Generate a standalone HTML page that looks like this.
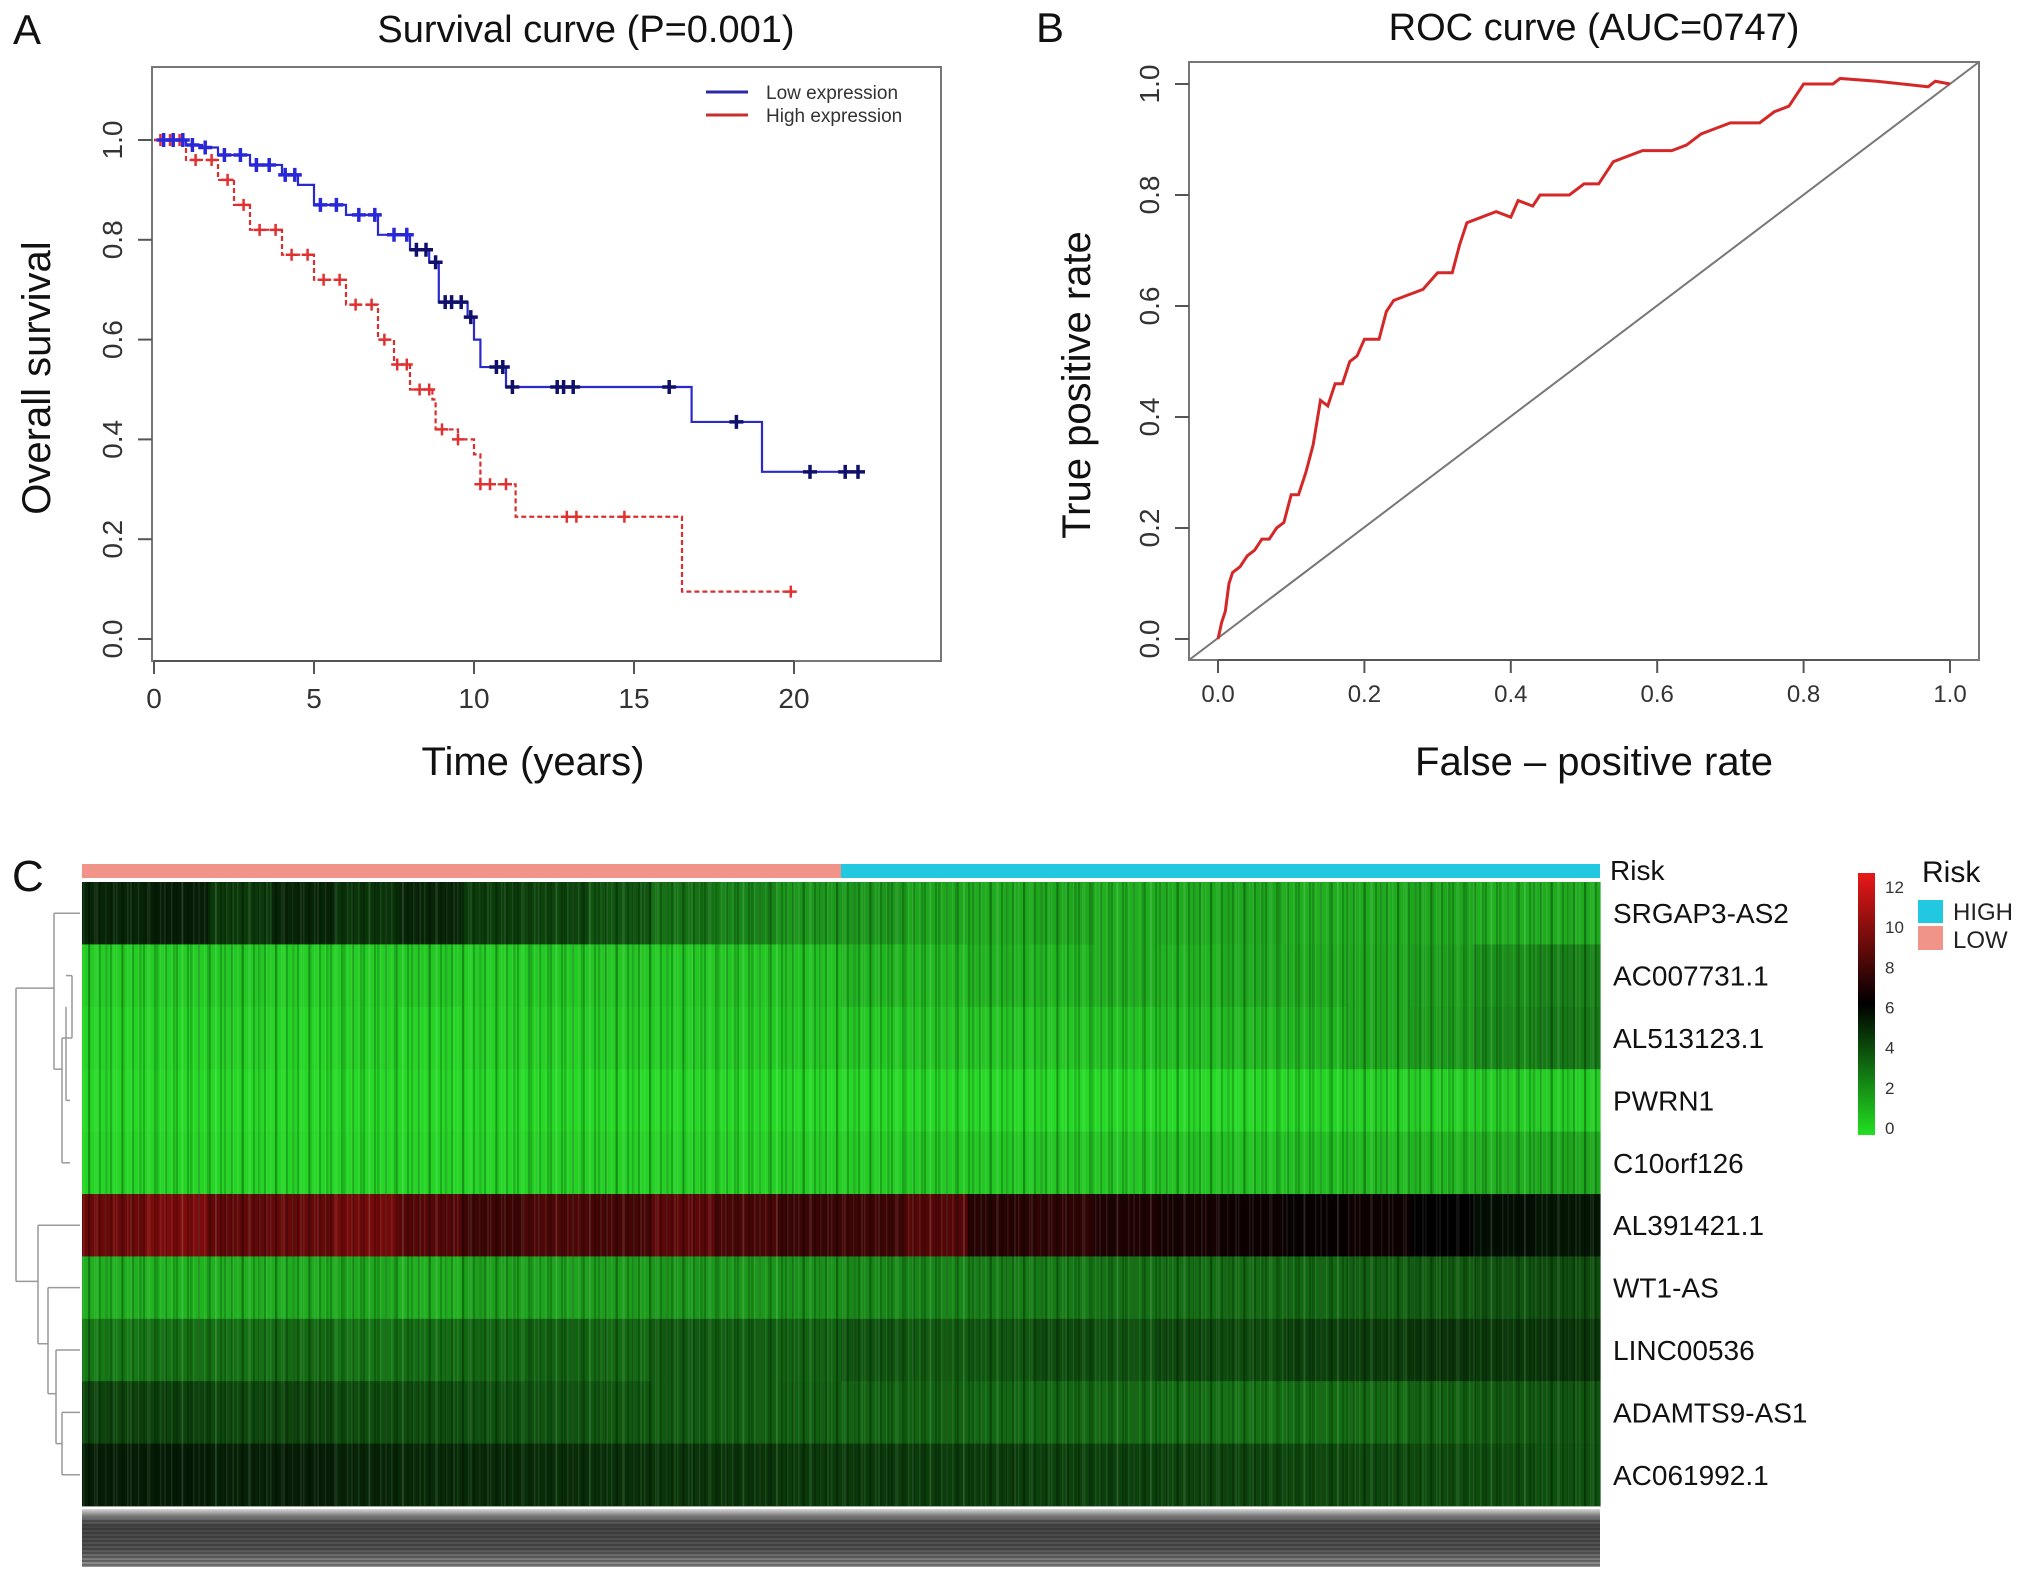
<!DOCTYPE html>
<html><head><meta charset="utf-8"><style>
html,body{margin:0;padding:0;background:#fff;}
svg{display:block;font-family:"Liberation Sans",Arial,sans-serif;}
</style></head><body>
<svg id="fig" width="2031" height="1586" viewBox="0 0 2031 1586" xmlns="http://www.w3.org/2000/svg">
<rect width="2031" height="1586" fill="#fff"/>
<defs>
<linearGradient id="keyg" x1="0" y1="1" x2="0" y2="0">
<stop offset="0" stop-color="#22e022"/><stop offset="0.5" stop-color="#000"/><stop offset="1" stop-color="#e81818"/>
</linearGradient>
<linearGradient id="grayg" x1="0" y1="0" x2="0" y2="1">
<stop offset="0" stop-color="#d8d8d8"/><stop offset="0.12" stop-color="#777"/><stop offset="0.3" stop-color="#444"/><stop offset="0.7" stop-color="#555"/><stop offset="1" stop-color="#999"/>
</linearGradient>
<pattern id="stripes" width="11" height="10" patternUnits="userSpaceOnUse">
<rect x="0" y="0" width="2" height="10" fill="#000" opacity="0.2"/>
<rect x="6" y="0" width="1.5" height="10" fill="#fff" opacity="0.08"/>
</pattern>
<pattern id="stripes2" width="17" height="10" patternUnits="userSpaceOnUse">
<rect x="3" y="0" width="2.5" height="10" fill="#000" opacity="0.15"/>
<rect x="11" y="0" width="2" height="10" fill="#fff" opacity="0.07"/>
</pattern>
<pattern id="gstripes" width="4" height="4" patternUnits="userSpaceOnUse">
<rect x="0" y="0" width="4" height="2" fill="#222" opacity="0.35"/>
</pattern>
</defs>
<!-- Panel A -->
<g id="panelA">
<text x="13" y="44" font-size="42" fill="#111">A</text>
<text x="586" y="42" font-size="38" text-anchor="middle" fill="#111">Survival curve (P=0.001)</text>
<rect x="152" y="67" width="789" height="594" fill="none" stroke="#777" stroke-width="2"/>
<g id="aTicks"></g>
<text x="533" y="775" font-size="40" text-anchor="middle" fill="#111">Time (years)</text>
<text x="0" y="0" font-size="40" text-anchor="middle" fill="#111" transform="translate(50,378) rotate(-90)">Overall survival</text>
<g id="aSeries"></g>
<g>
<line x1="706" y1="92" x2="748" y2="92" stroke="#2a2aa8" stroke-width="3"/>
<text x="766" y="99" font-size="19" fill="#333">Low expression</text>
<line x1="706" y1="115" x2="748" y2="115" stroke="#c83030" stroke-width="3"/>
<text x="766" y="122" font-size="19" fill="#333">High expression</text>
</g>
</g>
<!-- Panel B -->
<g id="panelB">
<text x="1036" y="42" font-size="42" fill="#111">B</text>
<text x="1594" y="40" font-size="38" text-anchor="middle" fill="#111">ROC curve (AUC=0747)</text>
<rect x="1189" y="62" width="790" height="598" fill="none" stroke="#777" stroke-width="2"/>
<g id="bTicks"></g>
<text x="1594" y="775" font-size="40" text-anchor="middle" fill="#111">False – positive rate</text>
<text x="0" y="0" font-size="40" text-anchor="middle" fill="#111" transform="translate(1090,385) rotate(-90)">True positive rate</text>
<g id="bSeries"></g>
</g>
<!-- Panel C -->
<g id="panelC">
<text x="12" y="891" font-size="44" fill="#111">C</text>
<g id="cHeat"></g>
<rect x="82" y="1509" width="1518" height="58" fill="url(#grayg)"/>
<rect x="82" y="1520" width="1518" height="47" fill="url(#gstripes)"/>
<text x="1610" y="880" font-size="28" fill="#111">Risk</text>
<rect x="1858" y="873" width="17" height="262" fill="url(#keyg)"/>
<g id="cKey"></g>
<text x="1922" y="882" font-size="30" fill="#111">Risk</text>
<rect x="1918" y="900" width="25" height="23" fill="#22c8e0"/>
<text x="1953" y="920" font-size="24" fill="#222">HIGH</text>
<rect x="1918" y="926" width="25" height="24" fill="#f0948a"/>
<text x="1953" y="948" font-size="24" fill="#222">LOW</text>
</g>
</svg>
<script>
// ---------- Panel A data ----------
const lowT = [0,1,1.5,2,3,4,4.5,5,6,7,8,8.6,8.9,9.8,10,10.2,11,16.8,19,22.2];
const lowS = [1.0,0.99,0.985,0.97,0.95,0.93,0.91,0.87,0.85,0.81,0.78,0.755,0.675,0.645,0.60,0.545,0.505,0.435,0.335,0.335];
const highT = [0,1,2,2.5,3,4,5,6,7,7.5,8,8.7,8.8,9.5,10,10.2,11.3,16.5,20];
const highS = [1.0,0.96,0.92,0.87,0.82,0.77,0.72,0.67,0.60,0.55,0.50,0.48,0.42,0.40,0.37,0.31,0.245,0.095,0.095];
const lowCens = [0.3,0.6,0.9,1.2,1.6,2.2,2.7,3.2,3.6,4.1,4.4,5.2,5.7,6.4,6.9,7.5,7.9,8.2,8.5,8.8,9.1,9.3,9.6,9.9,10.7,10.9,11.2,12.6,12.8,13.1,16.1,18.2,20.5,21.6,22.0];
const highCens = [0.2,0.5,0.8,1.3,1.8,2.3,2.8,3.3,3.8,4.3,4.8,5.3,5.8,6.3,6.8,7.2,7.6,7.9,8.3,8.6,9.0,9.5,10.2,10.5,11.0,12.9,13.2,14.7,19.9];
const aXTicks = [0,5,10,15,20];
const aYTicks = [0.0,0.2,0.4,0.6,0.8,1.0];
// ---------- Panel B data ----------
const rocFpr = [0,0.005,0.01,0.015,0.02,0.03,0.04,0.05,0.06,0.07,0.08,0.09,0.1,0.11,0.12,0.13,0.14,0.15,0.16,0.17,0.18,0.19,0.2,0.22,0.23,0.24,0.26,0.28,0.3,0.32,0.33,0.34,0.36,0.38,0.4,0.41,0.43,0.44,0.48,0.5,0.52,0.54,0.56,0.58,0.62,0.64,0.66,0.68,0.7,0.74,0.76,0.78,0.8,0.84,0.85,0.9,0.97,0.98,1.0];
const rocTpr = [0,0.03,0.05,0.1,0.12,0.13,0.15,0.16,0.18,0.18,0.2,0.21,0.26,0.26,0.3,0.35,0.43,0.42,0.46,0.46,0.5,0.51,0.54,0.54,0.59,0.61,0.62,0.63,0.66,0.66,0.71,0.75,0.76,0.77,0.76,0.79,0.78,0.8,0.8,0.82,0.82,0.86,0.87,0.88,0.88,0.89,0.91,0.92,0.93,0.93,0.95,0.96,1.0,1.0,1.01,1.005,0.995,1.005,1.0];
const bTicks = [0.0,0.2,0.4,0.6,0.8,1.0];
// ---------- Panel C data ----------
const genes = ["SRGAP3-AS2","AC007731.1","AL513123.1","PWRN1","C10orf126","AL391421.1","WT1-AS","LINC00536","ADAMTS9-AS1","AC061992.1"];
const riskGroups = ["LOW","HIGH"];
const riskCounts = [1, 1];
const expr0 = [5,5.2,4.5,5,4.6,5,4.4,4.2,3.8,3,2.5,2,2,1.6,1.5,1.6,1.4,1.5,1.6,1.4,1.5,1.6,1.4,1.5];
const expr1 = [0.6,0.6,0.7,0.6,0.6,0.7,0.6,0.7,0.8,0.7,0.8,0.9,1.2,1.1,1.3,1.2,1.4,1.3,1.5,1.5,1.6,1.8,2.2,2.6];
const expr2 = [0.4,0.4,0.5,0.4,0.5,0.4,0.5,0.5,0.6,0.6,0.6,0.7,0.7,0.8,0.8,0.8,0.9,1.0,1.1,1.2,1.6,1.9,2.4,2.8];
const expr3 = [0.3,0.3,0.3,0.3,0.3,0.3,0.3,0.3,0.3,0.3,0.3,0.3,0.3,0.3,0.3,0.3,0.3,0.3,0.3,0.4,0.5,0.5,0.6,0.6];
const expr4 = [0.4,0.4,0.4,0.4,0.4,0.4,0.4,0.5,0.5,0.5,0.5,0.6,0.6,0.7,0.7,0.8,0.8,0.9,0.9,1.0,1.1,1.2,1.4,1.6];
const expr5 = [8.8,9.2,8.5,8.6,9,8.2,7.6,8,7.8,8.4,7.9,7.5,7.6,8.2,7,7.2,6.8,6.6,6.4,6.2,6.4,6,5.6,5.4];
const expr6 = [1.4,1.3,1.4,1.5,1.6,1.4,1.8,1.7,1.9,2,2,2.2,2.4,2.5,2.7,2.8,3,3.1,3.2,3.3,3.5,3.6,3.8,4];
const expr7 = [2.8,3,3,3.2,2.9,3.1,3.3,3.4,3.2,3.6,3.5,3.4,3.8,3.6,3.7,4,3.8,4.1,4,4.3,4.4,4.6,4.5,4.6];
const expr8 = [4.2,4.3,4.1,4.2,4,4,3.9,3.8,3.7,3.6,3.5,3.5,3.4,3.4,3.3,3.3,3.2,3.1,3,3.1,3.2,3.4,3.6,3.8];
const expr9 = [5.2,5.3,5.1,5.2,5,4.9,4.9,4.8,4.7,4.6,4.6,4.5,4.5,4.4,4.4,4.3,4.3,4.2,4.2,4.1,4.1,4.0,4.0,3.9];
const exprRows = [expr0,expr1,expr2,expr3,expr4,expr5,expr6,expr7,expr8,expr9];
const keyTicks = [0,2,4,6,8,10,12];

const NS = "http://www.w3.org/2000/svg";
function mk(parent, tag, attrs){const e=document.createElementNS(NS,tag);for(const k in attrs)e.setAttribute(k,attrs[k]);parent.appendChild(e);return e;}

// Panel A axes
const ax = t => 154 + t*32;
const ay = s => 639 - s*499;
const aT = document.getElementById('aTicks');
mk(aT,'line',{x1:ax(0),x2:ax(20),y1:661,y2:661,stroke:'#555','stroke-width':2});
aXTicks.forEach(v=>{
  const l=mk(aT,'line',{x1:ax(v),x2:ax(v),y1:661,y2:674,stroke:'#555','stroke-width':2});
   
  const t=mk(aT,'text',{x:ax(v),y:708,'font-size':28,'text-anchor':'middle',fill:'#333'}); t.textContent=v;
   
});
aYTicks.forEach(v=>{
  const l=mk(aT,'line',{x1:138,x2:152,y1:ay(v),y2:ay(v),stroke:'#555','stroke-width':2});
   
  const t=mk(aT,'text',{x:0,y:0,'font-size':28,'text-anchor':'middle',fill:'#333',transform:`translate(122,${ay(v)}) rotate(-90)`}); t.textContent=v.toFixed(1);
   
});
function stepPath(T,S){let d=`M${ax(T[0])},${ay(S[0])}`;for(let i=1;i<T.length;i++){d+=` L${ax(T[i])},${ay(S[i-1])} L${ax(T[i])},${ay(S[i])}`;}return d;}
function survAt(T,S,t){let s=S[0];for(let i=0;i<T.length;i++){if(T[i]<=t)s=S[i];}return s;}
const aS=document.getElementById('aSeries');
const hp=mk(aS,'path',{d:stepPath(highT,highS),fill:'none',stroke:'#d83030','stroke-width':2.2,'stroke-dasharray':'5 3'});
 
const lp=mk(aS,'path',{d:stepPath(lowT,lowS),fill:'none',stroke:'#2a2acc','stroke-width':2.2});
 
highCens.forEach(t=>{const x=ax(t),y=ay(survAt(highT,highS,t));
  const c=mk(aS,'path',{d:`M${x-6},${y}H${x+6}M${x},${y-6}V${y+6}`,stroke:'#e03030','stroke-width':2.5});
   });
lowCens.forEach(t=>{const x=ax(t),y=ay(survAt(lowT,lowS,t));
  const col=t<8?'#2828d8':'#10106a';
  const c=mk(aS,'path',{d:`M${x-7},${y}H${x+7}M${x},${y-7}V${y+7}`,stroke:col,'stroke-width':3.5});
   });

// Panel B
const bx = v => 1218 + v*732;
const by = v => 639 - v*555;
const bT=document.getElementById('bTicks');
mk(bT,'line',{x1:bx(0),x2:bx(1),y1:660,y2:660,stroke:'#555','stroke-width':2});
bTicks.forEach(v=>{
  const l=mk(bT,'line',{x1:bx(v),x2:bx(v),y1:660,y2:673,stroke:'#555','stroke-width':2});
   
  const t=mk(bT,'text',{x:bx(v),y:702,'font-size':24,'text-anchor':'middle',fill:'#333'}); t.textContent=v.toFixed(1);
   
  const l2=mk(bT,'line',{x1:1175,x2:1189,y1:by(v),y2:by(v),stroke:'#555','stroke-width':2});
   
  const t2=mk(bT,'text',{x:0,y:0,'font-size':28,'text-anchor':'middle',fill:'#333',transform:`translate(1159,${by(v)}) rotate(-90)`}); t2.textContent=v.toFixed(1);
   
});
const bS=document.getElementById('bSeries');
const diag=mk(bS,'line',{x1:1189,y1:660,x2:1979,y2:62,stroke:'#777','stroke-width':2});
 
let rd='';rocFpr.forEach((f,i)=>{rd+=(i?' L':'M')+bx(f)+','+by(rocTpr[i]);});
const rc=mk(bS,'path',{d:rd,fill:'none',stroke:'#d42828','stroke-width':3});
 

// Panel C heatmap
function colorOf(v){
  if(v<=6){const f=v/6;return `rgb(${Math.round(40*(1-f))},${Math.round(228*(1-f))},${Math.round(40*(1-f))})`;}
  const f=Math.min(1,(v-6)/6);return `rgb(${Math.round(232*f)},${Math.round(20*f)},${Math.round(20*f)})`;
}
const hx0=82,hx1=1600,hy0=882,rowH=62.4;
const cH=document.getElementById('cHeat');
const tot=riskCounts[0]+riskCounts[1];
const split=hx0+(hx1-hx0)*riskCounts[0]/tot;
const rl=mk(cH,'rect',{x:hx0,y:864,width:split-hx0,height:14,fill:'#f0948a'});
 
const rh=mk(cH,'rect',{x:split,y:864,width:hx1-split,height:14,fill:'#22c8e0'});
 
exprRows.forEach((row,r)=>{
  const w=(hx1-hx0)/row.length;
  row.forEach((v,c)=>{
    const cell=mk(cH,'rect',{x:hx0+c*w,y:hy0+r*rowH,width:w+0.6,height:rowH+0.4,fill:colorOf(v)});
     
  });
  const lab=mk(cH,'text',{x:1613,y:hy0+r*rowH+rowH/2+10,'font-size':28,fill:'#111'}); lab.textContent=genes[r];
   
});
const st=mk(cH,'rect',{x:hx0,y:hy0,width:hx1-hx0,height:rowH*10,fill:'url(#stripes)'});
 
const st2=mk(cH,'rect',{x:hx0,y:hy0,width:hx1-hx0,height:rowH*10,fill:'url(#stripes2)'});
 
// dendrogram
const rc_ = i => hy0+i*rowH+rowH/2;
const dend=[
 [72,rc_(1),72,rc_(2)],[66,(rc_(1)+rc_(2))/2,66,rc_(3)],[72,rc_(1),66,rc_(1)],[72,rc_(2),66,rc_(2)],
 [70,rc_(3),66,rc_(3)],[70,rc_(4),62,rc_(4)],[62,rc_(4),62,(rc_(1)+rc_(3))/2],[66,(rc_(1)+rc_(3))/2,62,(rc_(1)+rc_(3))/2],
 [80,rc_(0),54,rc_(0)],[54,rc_(0),54,rc_(2.5)],[62,rc_(2.5),54,rc_(2.5)],
 [80,rc_(8),62,rc_(8)],[80,rc_(9),62,rc_(9)],[62,rc_(8),62,rc_(9)],
 [80,rc_(7),56,rc_(7)],[56,rc_(7),56,rc_(8.5)],[62,rc_(8.5),56,rc_(8.5)],
 [80,rc_(6),48,rc_(6)],[48,rc_(6),48,rc_(7.7)],[56,rc_(7.7),48,rc_(7.7)],
 [80,rc_(5),38,rc_(5)],[38,rc_(5),38,rc_(6.9)],[48,rc_(6.9),38,rc_(6.9)],
 [54,rc_(1.2),16,rc_(1.2)],[38,rc_(5.9),16,rc_(5.9)],[16,rc_(1.2),16,rc_(5.9)]
];
dend.forEach(s=>{const l=mk(cH,'line',{x1:s[0],y1:s[1],x2:s[2],y2:s[3],stroke:'#999','stroke-width':1.5});
   });
const cK=document.getElementById('cKey');
keyTicks.forEach(v=>{
  const y=1128-v*(1128-887)/12;
  const t=mk(cK,'text',{x:1885,y:y+6,'font-size':17,fill:'#333'}); t.textContent=v;
   
});
</script>
</body></html>
